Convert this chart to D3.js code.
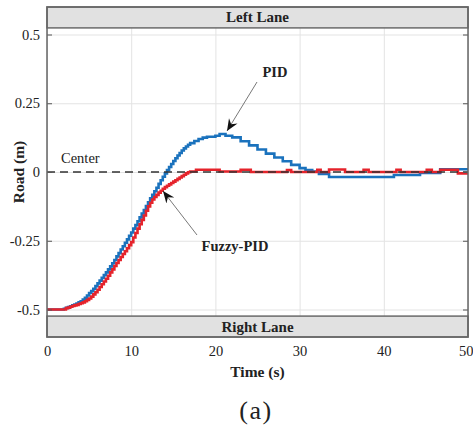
<!DOCTYPE html>
<html lang="en">
<head>
<meta charset="UTF-8">
<script src="https://d3js.org/d3.v7.min.js"></script>
<style>
  body { margin: 0; background: #fff; }
</style>
</head>
<body>
<div id="chart"></div>
<script>
// PID response (time in s, lateral position in m)
const pidTime = [0, 2, 2.25, 2.5, 2.75, 3, 3.25, 3.5, 3.75, 4, 4.25, 4.5, 4.75, 5, 5.25, 5.5,
  5.75, 6, 6.25, 6.5, 6.75, 7, 7.25, 7.5, 7.75, 8, 8.25, 8.5, 8.75, 9, 9.25, 9.5, 9.75, 10,
  10.25, 10.5, 10.75, 11, 11.25, 11.5, 11.75, 12, 12.25, 12.5, 12.75, 13, 13.25, 13.5, 13.75,
  14, 14.25, 14.5, 14.75, 15, 15.25, 15.5, 15.75, 16, 16.25, 16.5, 16.75, 17, 17.5, 18, 18.5,
  19, 20, 20.5, 21.2, 22, 23, 24, 25, 26, 27, 28, 29, 30, 30.7, 31.5, 32.3, 33.5,
  41.2, 44.3, 46.7, 50];
const pidPos = [-0.5, -0.497, -0.494, -0.491, -0.488, -0.485, -0.482, -0.478, -0.474, -0.47,
  -0.464, -0.457, -0.449, -0.44, -0.433, -0.425, -0.415, -0.405, -0.395, -0.385, -0.375,
  -0.365, -0.354, -0.343, -0.332, -0.32, -0.307, -0.295, -0.282, -0.27, -0.257, -0.245,
  -0.232, -0.22, -0.206, -0.193, -0.179, -0.165, -0.151, -0.138, -0.124, -0.11, -0.096,
  -0.083, -0.07, -0.057, -0.043, -0.03, -0.017, -0.005, 0.007, 0.018, 0.029, 0.04, 0.05,
  0.06, 0.069, 0.078, 0.086, 0.093, 0.099, 0.105, 0.113, 0.12, 0.125, 0.128, 0.132, 0.138,
  0.132, 0.126, 0.112, 0.097, 0.082, 0.067, 0.053, 0.039, 0.026, 0.014, 0.007, 0.002,
  -0.007, -0.018, -0.011, -0.003, 0.01, 0.01];

// Fuzzy-PID response
const fuzzyTime = [0, 2.25, 2.5, 2.75, 3, 3.25, 3.5, 3.75, 4, 4.25, 4.5, 4.75, 5, 5.25, 5.5,
  5.75, 6, 6.25, 6.5, 6.75, 7, 7.25, 7.5, 7.75, 8, 8.25, 8.5, 8.75, 9, 9.25, 9.5, 9.75, 10,
  10.25, 10.5, 10.75, 11, 11.25, 11.5, 11.75, 12, 12.25, 12.5, 12.75, 13, 13.25, 13.5, 13.75,
  14, 14.25, 14.5, 14.75, 15, 15.25, 15.5, 15.75, 16, 16.25, 16.5, 16.75, 17, 17.7, 20.5, 23,
  24.2, 28.5, 29, 32.1, 32.5, 33.5, 35.4, 37.6, 38.2, 41.5, 42, 45.1, 45.7, 46.7, 48.8, 50];
const fuzzyPos = [-0.5, -0.495, -0.493, -0.49, -0.487, -0.485, -0.483, -0.48, -0.477, -0.474,
  -0.47, -0.465, -0.46, -0.453, -0.445, -0.437, -0.428, -0.418, -0.408, -0.398, -0.388,
  -0.377, -0.365, -0.354, -0.342, -0.331, -0.32, -0.309, -0.298, -0.288, -0.277, -0.266,
  -0.255, -0.238, -0.222, -0.206, -0.19, -0.174, -0.158, -0.141, -0.125, -0.112, -0.1,
  -0.091, -0.083, -0.075, -0.068, -0.061, -0.055, -0.05, -0.045, -0.04, -0.035, -0.03,
  -0.025, -0.02, -0.015, -0.01, -0.005, -0.001, 0.002, 0.008, 0.002, 0.008, 0.0, 0.007,
  0.0, 0.008, 0.0, 0.009, 0.0, 0.008, 0.0, 0.008, 0.0, 0.008, 0.0, 0.008, -0.005, -0.005];

const xTicks = [0, 10, 20, 30, 40, 50];
const yTicks = [-0.5, -0.25, 0, 0.25, 0.5];
const yTickLabels = ["-0.5", "-0.25", "0", "0.25", "0.5"];

const serif = "'Liberation Serif', 'Times New Roman', serif";
const width = 473, height = 430;
const plotL = 47, plotR = 468, plotT = 7, plotB = 337;

const svg = d3.select("#chart").append("svg")
  .attr("width", width)
  .attr("height", height)
  .attr("font-family", serif);

const x = d3.scaleLinear().domain([0, 50]).range([plotL, plotR]);
const y = d3.scaleLinear().domain([-0.6, 0.6]).range([plotB, plotT]);

// arrow head
svg.append("defs").append("marker")
  .attr("id", "head")
  .attr("markerUnits", "userSpaceOnUse")
  .attr("viewBox", "-12 -6 13 12")
  .attr("refX", 0).attr("refY", 0)
  .attr("markerWidth", 13).attr("markerHeight", 12)
  .attr("orient", "auto")
  .append("path")
  .attr("d", "M0,0 L-12,-5 L-8,0 L-12,5 Z")
  .attr("fill", "#111");

// grid
svg.append("g")
  .attr("transform", `translate(0,${plotB})`)
  .call(d3.axisBottom(x).tickValues(xTicks).tickSize(-(plotB - plotT)).tickFormat(""))
  .call(g => g.select(".domain").remove())
  .call(g => g.selectAll("line").attr("stroke", "#e3e3e3"));
svg.append("g")
  .attr("transform", `translate(${plotL},0)`)
  .call(d3.axisLeft(y).tickValues(yTicks).tickSize(-(plotR - plotL)).tickFormat(""))
  .call(g => g.select(".domain").remove())
  .call(g => g.selectAll("line").attr("stroke", "#e3e3e3"));

// lane bands
const lanes = [
  { name: "Left Lane", y0: 0.6, y1: 0.524 },
  { name: "Right Lane", y0: -0.524, y1: -0.6 }
];
svg.selectAll(".lane").data(lanes).enter().append("rect")
  .attr("x", x(0)).attr("width", x(50) - x(0))
  .attr("y", d => y(d.y0)).attr("height", d => y(d.y1) - y(d.y0))
  .attr("fill", "#e1e1e1").attr("stroke", "#6a6a6a").attr("stroke-width", 1.5);
svg.selectAll(".laneText").data(lanes).enter().append("text")
  .attr("x", x(25)).attr("y", d => (y(d.y0) + y(d.y1)) / 2 + 5)
  .attr("text-anchor", "middle").attr("fill", "#222")
  .attr("font-weight", "bold").attr("font-size", 15)
  .text(d => d.name);

// curves
const line = d3.line().curve(d3.curveStepAfter)
  .x(d => x(d[0])).y(d => y(d[1]));
svg.append("path")
  .datum(pidTime.map((t, i) => [t, pidPos[i]]))
  .attr("d", line).attr("fill", "none")
  .attr("stroke", "#1a72bd").attr("stroke-width", 2.6);
svg.append("path")
  .datum(fuzzyTime.map((t, i) => [t, fuzzyPos[i]]))
  .attr("d", line).attr("fill", "none")
  .attr("stroke", "#e5232b").attr("stroke-width", 2.6);

// center line
svg.append("line")
  .attr("x1", x(0)).attr("x2", x(50)).attr("y1", y(0)).attr("y2", y(0))
  .attr("stroke", "#333").attr("stroke-width", 1.5).attr("stroke-dasharray", "8,5");
svg.append("text").attr("x", 61).attr("y", 163).attr("font-size", 14.5)
  .attr("fill", "#222").text("Center");

// axes
svg.append("g")
  .attr("transform", `translate(${plotL},0)`)
  .call(d3.axisLeft(y).tickValues(yTicks).tickSize(-5).tickPadding(7)
    .tickFormat((d, i) => yTickLabels[i]))
  .call(g => g.select(".domain").remove())
  .call(g => g.selectAll("line").attr("stroke", "#555"))
  .call(g => g.selectAll("text").attr("font-size", 14.5).attr("font-family", serif).attr("fill", "#222"));
svg.append("g")
  .attr("transform", `translate(${plotR},0)`)
  .call(d3.axisRight(y).tickValues(yTicks).tickSize(-5).tickFormat(""))
  .call(g => g.select(".domain").remove())
  .call(g => g.selectAll("line").attr("stroke", "#555"));
svg.append("g")
  .attr("transform", `translate(0,${plotB})`)
  .call(d3.axisBottom(x).tickValues(xTicks).tickSize(0).tickPadding(9))
  .call(g => g.select(".domain").remove())
  .call(g => g.selectAll("text").attr("font-size", 14.5).attr("font-family", serif).attr("fill", "#222"))
  .call(g => g.selectAll("text").filter(d => d === 50).attr("text-anchor", "end").attr("dx", 5));

// frame
svg.append("rect")
  .attr("x", plotL).attr("y", plotT).attr("width", plotR - plotL).attr("height", plotB - plotT)
  .attr("fill", "none").attr("stroke", "#666").attr("stroke-width", 1.5);

// annotations
svg.append("line")
  .attr("x1", 257).attr("y1", 82).attr("x2", 227).attr("y2", 131)
  .attr("stroke", "#555").attr("stroke-width", 0.8).attr("marker-end", "url(#head)");
svg.append("text").attr("x", 275).attr("y", 77).attr("text-anchor", "middle")
  .attr("fill", "#222").attr("font-weight", "bold").attr("font-size", 14.5).text("PID");
svg.append("line")
  .attr("x1", 197).attr("y1", 235).attr("x2", 163).attr("y2", 191)
  .attr("stroke", "#555").attr("stroke-width", 0.8).attr("marker-end", "url(#head)");
svg.append("text").attr("x", 235).attr("y", 251).attr("text-anchor", "middle")
  .attr("fill", "#222").attr("font-weight", "bold").attr("font-size", 14.5).text("Fuzzy-PID");

// axis titles
svg.append("text")
  .attr("transform", `translate(24,${(plotT + plotB) / 2}) rotate(-90)`)
  .attr("text-anchor", "middle").attr("fill", "#222")
  .attr("font-weight", "bold").attr("font-size", 15.5)
  .text("Road (m)");
svg.append("text").attr("x", (plotL + plotR) / 2).attr("y", 377)
  .attr("text-anchor", "middle").attr("fill", "#222")
  .attr("font-weight", "bold").attr("font-size", 15.5)
  .text("Time (s)");
svg.append("text").attr("x", 256).attr("y", 419)
  .attr("text-anchor", "middle").attr("fill", "#222").attr("font-size", 26)
  .attr("letter-spacing", 1.5)
  .text("(a)");
</script>
</body>
</html>
